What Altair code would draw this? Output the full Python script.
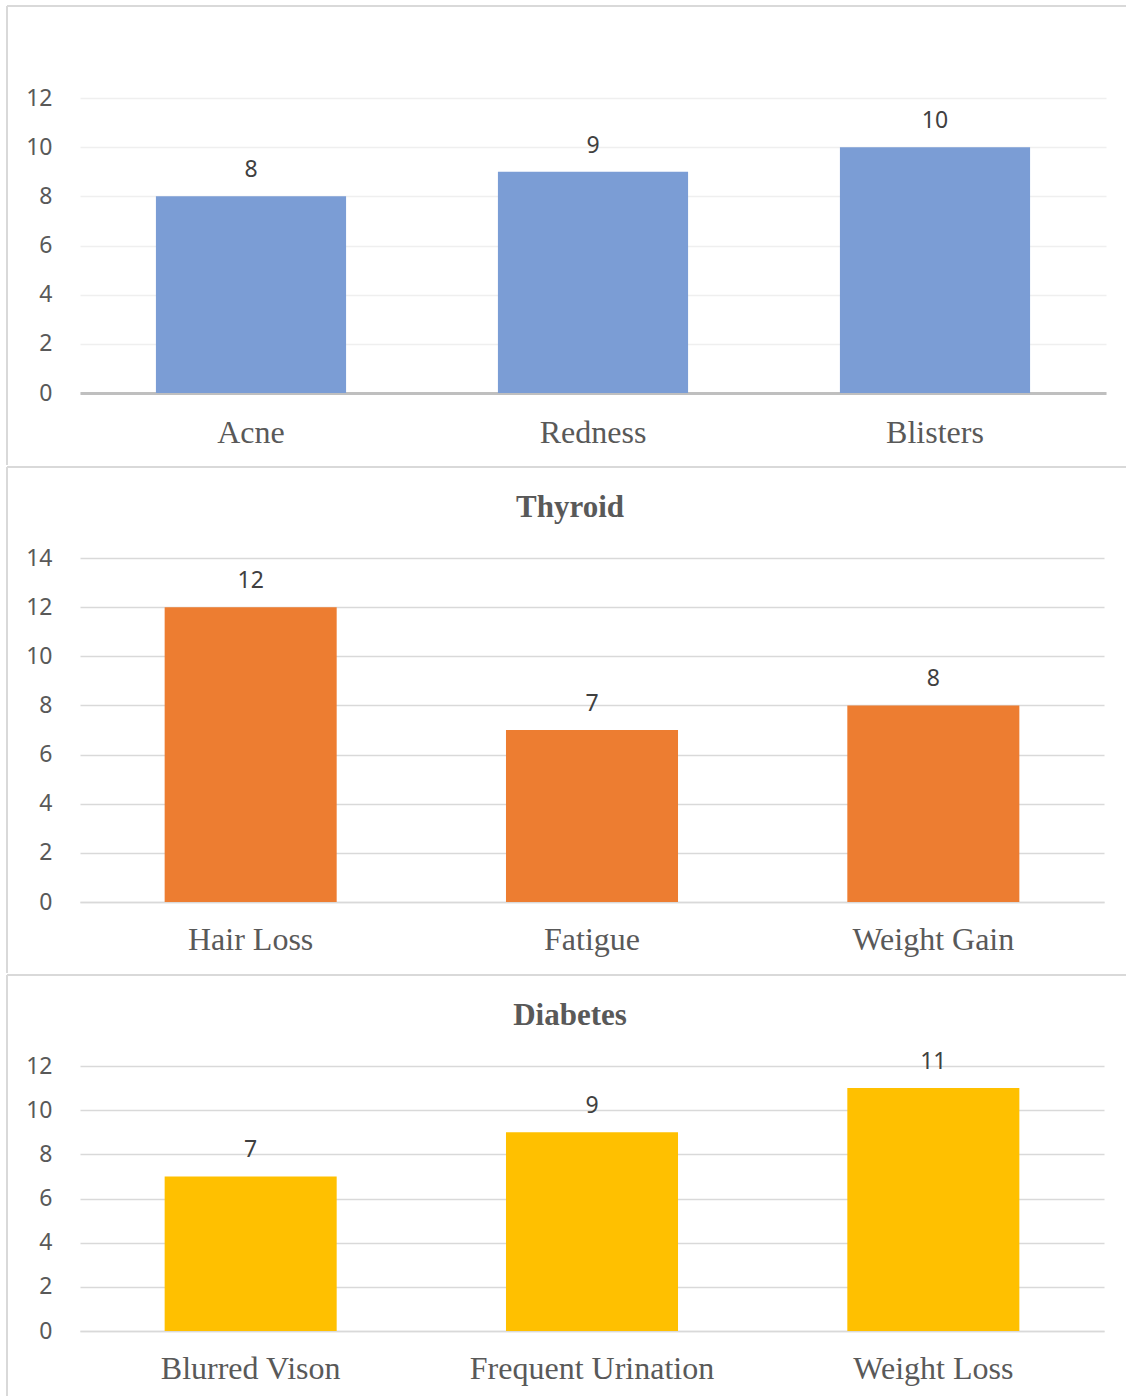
import altair as alt
import pandas as pd

# ---- data ----
skin_symptoms = ["Acne", "Redness", "Blisters"]
skin_counts = [8, 9, 10]

thyroid_symptoms = ["Hair Loss", "Fatigue", "Weight Gain"]
thyroid_counts = [12, 7, 8]

diabetes_symptoms = ["Blurred Vison", "Frequent Urination", "Weight Loss"]
diabetes_counts = [7, 9, 11]

TEXT = "#595959"
BORDER = "#d9d9d9"


def panel(cats, vals, color, ymax, width, height, title, pad_inner,
          grid_color, domain_color, domain_width, label_pad,
          left_top, left_bottom, top_line):
    df = pd.DataFrame({"symptom": cats, "count": vals})
    x = alt.X("symptom:N", sort=cats, title=None,
              scale=alt.Scale(paddingInner=pad_inner, paddingOuter=pad_inner / 2),
              axis=alt.Axis(labelAngle=0, ticks=False, domain=True,
                            domainColor=domain_color, domainWidth=domain_width,
                            labelFont="Liberation Serif", labelFontSize=32,
                            labelLimit=500,
                            labelColor=TEXT, labelPadding=label_pad, grid=False))
    y = alt.Y("count:Q", title=None,
              scale=alt.Scale(domain=[0, ymax], nice=False),
              axis=alt.Axis(values=list(range(0, ymax + 1, 2)), ticks=False,
                            domain=False, labelFont="Noto Sans", labelFontSize=23,
                            labelColor=TEXT, labelPadding=28, grid=True,
                            gridColor=grid_color, gridWidth=1.5))
    bars = alt.Chart(df).mark_bar(color=color).encode(x=x, y=y)
    labels = alt.Chart(df).mark_text(
        dy=-19, baseline="alphabetic", fontSize=23, font="Noto Sans",
        color="#404040").encode(x=alt.X("symptom:N", sort=cats),
                                y="count:Q", text="count:Q")
    one = pd.DataFrame({"k": [0]})
    left_rule = alt.Chart(one).mark_rule(color=BORDER, strokeWidth=2).encode(
        x=alt.value(-73), y=alt.value(left_top), y2=alt.value(left_bottom))
    top_rule = alt.Chart(one).mark_rule(color=BORDER, strokeWidth=2).encode(
        x=alt.value(-73), x2=alt.value(1046), y=alt.value(top_line))
    ch = alt.layer(bars, labels, left_rule, top_rule).properties(
        width=width, height=height)
    if title:
        ch = ch.properties(title=alt.TitleParams(
            title, font="Liberation Serif", fontSize=31, fontWeight="bold",
            color=TEXT, offset=-58, dx=-22))
    return ch


p1 = panel(skin_symptoms, skin_counts, "#7B9DD5", 12, 1026, 295, None, 0.444,
           "#efefef", "#bfbfbf", 3, 24, -92, 367, -92)
p2 = panel(thyroid_symptoms, thyroid_counts, "#ED7D31", 14, 1024, 344, "Thyroid",
           0.496, "#d9d9d9", "#d9d9d9", 1.5, 22, -91, 415, -91)
p3 = panel(diabetes_symptoms, diabetes_counts, "#FFC000", 12, 1024, 265, "Diabetes",
           0.496, "#d9d9d9", "#d9d9d9", 1.5, 22, -91, 330, -91)

chart = alt.vconcat(p1, p2, p3, spacing=0).properties(
    padding={"left": 6, "top": 5, "right": 0, "bottom": 0},
    background="white",
).configure_view(stroke=None)

chart.save("out.html", embed_options={"renderer": "svg", "actions": False})
